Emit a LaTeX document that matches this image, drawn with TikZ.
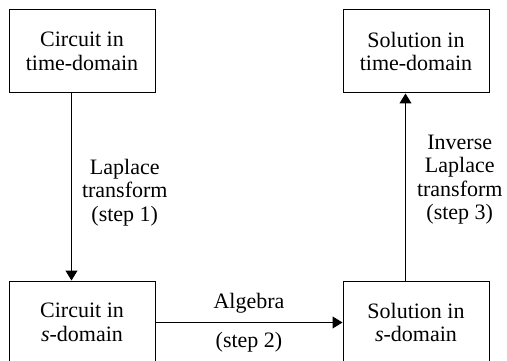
\documentclass[tikz,border=0pt]{standalone}
\usepackage{fontspec}
\setmainfont{Liberation Serif}
\usetikzlibrary{positioning,calc,arrows.meta}

\tikzset{
  domainbox/.style={draw, line width=1pt, minimum width=146pt, minimum height=83pt,
                    align=center, inner sep=0pt},
  steplabel/.style={align=center, inner sep=0pt},
  flow/.style={line width=1pt, -{Triangle[length=10pt,width=12pt]}}
}

\begin{document}
\begin{tikzpicture}[x=1pt, y=1pt, font=\fontsize{22}{23.5}\selectfont]
\useasboundingbox (0,0) rectangle (507,-361);

\node[domainbox] (cirtime) at (82,-51.5)  {Circuit in\\time-domain};
\node[domainbox] (soltime) at (416,-51.5) {Solution in\\time-domain};
\node[domainbox] (cirs)    at (82,-322.5) {Circuit in\\\textit{s}-domain};
\node[domainbox] (sols)    at (416,-322.5) {Solution in\\\textit{s}-domain};

\draw[flow] ([xshift=-10.5pt]cirtime.south) -- ([xshift=-10.5pt]cirs.north)
  node[steplabel, pos=0.53, right=10pt] {Laplace\\transform\\(step 1)};
\draw[flow] ([xshift=-10.5pt]sols.north) -- ([xshift=-10.5pt]soltime.south)
  node[steplabel, pos=0.54, right=11pt] {Inverse\\Laplace\\transform\\(step 3)};
\draw[flow] (cirs.east) -- (sols.west)
  node[midway, above=9pt, inner sep=0pt] {Algebra}
  node[midway, below=9pt, inner sep=0pt] {(step 2)};
\end{tikzpicture}
\end{document}
